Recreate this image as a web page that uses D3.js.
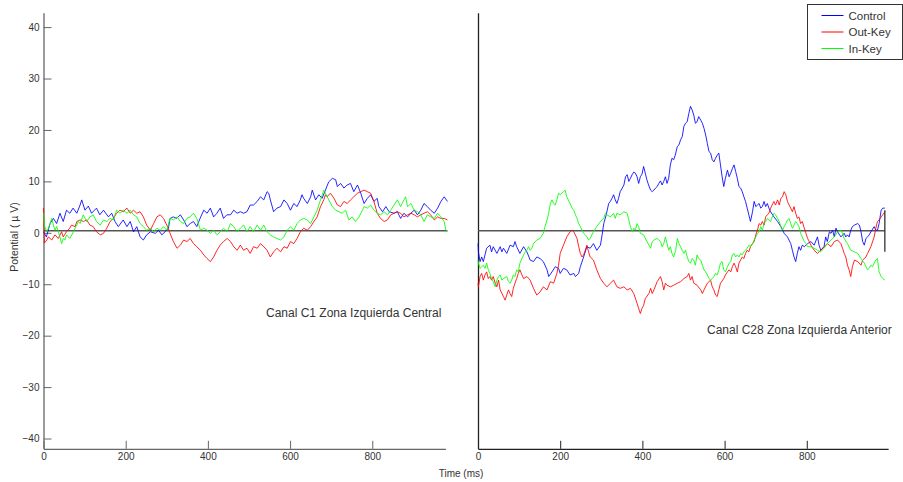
<!DOCTYPE html>
<html>
<head>
<meta charset="utf-8">
<script src="https://cdn.jsdelivr.net/npm/d3@7"></script>
<style>
body { margin: 0; background: #fff; }
text { font-family: "Liberation Sans", Arial, sans-serif; fill: #333; }
</style>
</head>
<body>
<script>
(function(){

//series names and colors (legend order)
var seriesNames = ["Control", "Out-Key", "In-Key"];
var seriesColors = ["#0000ff", "#ff0000", "#00ff00"];

//tick labels
var timeTicks = [0, 200, 400, 600, 800];
var potentialTicks = [-40, -30, -20, -10, 0, 10, 20, 30, 40];
var baseline = 0.4; //horizontal reference line (uV)

//panel captions
var captions = ["Canal C1 Zona Izquierda Central", "Canal C28 Zona Izquierda Anterior"];

//channel C1, [ms, uV]
var c1Control = [[0,0.2],[7,-0.8],[16,1.8],[24,2.8],[32,1.8],[40,3.8],[48,2.2],[56,4.4],[64,3.8],[72,4.8],[81,3.8],[89,5.4],[93,6.4],[101,4.4],[109,5.2],[117,3.8],[129,4.8],[137,3.5],[146,4.4],[158,3.1],[166,3.8],[174,2.2],[182,1.2],[194,2.5],[203,1.2],[211,2.2],[219,0.2],[227,1.2],[235,-0.8],[243,-1.4],[251,-0.4],[260,0.2],[272,-0.1],[280,0.5],[288,-0.4],[296,0.2],[304,0.9],[308,2.8],[316,3.1],[324,2.8],[333,3.5],[341,2.5],[349,1.2],[357,1.8],[365,2.2],[373,1.2],[381,2.8],[390,4.4],[398,3.8],[406,4.8],[414,3.1],[422,3.8],[430,4.8],[438,2.8],[446,3.5],[455,3.5],[463,4.4],[471,3.8],[479,4.1],[487,3.8],[495,4.1],[503,5.4],[511,5.4],[520,6.1],[528,7.0],[536,6.4],[544,8.0],[548,7.7],[552,6.4],[560,4.1],[568,4.8],[577,5.1],[585,6.4],[593,5.7],[601,4.4],[609,5.7],[617,5.1],[625,6.4],[629,7.4],[633,6.7],[642,5.7],[650,7.0],[654,8.3],[662,6.4],[670,7.4],[678,6.7],[686,8.3],[694,9.9],[703,10.6],[711,10.3],[715,9.0],[723,9.6],[731,8.7],[739,9.3],[747,9.6],[755,8.0],[764,9.3],[772,7.7],[780,5.7],[788,6.7],[796,7.4],[804,6.1],[812,6.7],[816,5.1],[825,4.1],[833,5.1],[841,4.1],[853,3.8],[861,4.1],[869,2.8],[877,3.8],[886,3.1],[894,3.8],[902,4.4],[910,3.5],[918,4.4],[926,5.7],[934,5.1],[942,4.4],[951,3.8],[959,4.8],[967,6.1],[975,7.0],[983,6.1]];
var c1OutKey = [[0,4.8],[2,-2.0],[8,-1.4],[12,-0.8],[20,-1.4],[28,-0.4],[36,-1.1],[44,0.2],[48,-0.8],[56,0.2],[64,0.9],[68,1.5],[77,1.2],[81,2.2],[89,2.5],[97,2.2],[105,2.5],[113,1.5],[121,1.2],[129,0.2],[138,-0.4],[146,-0.1],[154,0.9],[162,2.2],[170,2.8],[178,3.8],[186,4.4],[194,4.1],[203,4.8],[211,3.8],[219,4.4],[227,3.8],[235,4.1],[243,3.1],[251,1.5],[260,0.5],[268,1.8],[276,3.1],[284,3.5],[292,2.8],[300,1.5],[308,-0.1],[316,-1.7],[325,-3.0],[333,-2.4],[341,-1.4],[349,-1.7],[357,-1.1],[365,-2.1],[373,-2.7],[382,-3.4],[390,-4.3],[398,-5.0],[406,-5.6],[414,-4.7],[422,-3.4],[430,-2.4],[438,-1.7],[447,-1.1],[455,-1.7],[463,-2.7],[471,-3.4],[479,-2.4],[487,-3.4],[495,-3.0],[503,-4.0],[511,-2.7],[520,-3.0],[528,-2.1],[536,-2.7],[544,-3.4],[552,-4.7],[560,-3.7],[568,-3.0],[577,-3.7],[585,-2.7],[593,-3.0],[601,-1.7],[609,-2.1],[617,-1.1],[625,0.2],[633,0.9],[642,0.5],[650,1.2],[658,2.2],[666,3.1],[674,5.1],[682,6.4],[686,7.4],[690,7.0],[698,7.7],[707,6.7],[715,5.4],[723,5.1],[731,6.1],[739,5.7],[747,6.4],[755,7.0],[764,7.7],[772,8.0],[780,8.3],[788,8.0],[796,7.7],[804,6.1],[812,3.8],[820,2.8],[829,2.2],[837,2.5],[845,3.5],[853,3.8],[861,4.1],[869,3.8],[877,3.1],[886,3.5],[894,3.8],[902,3.5],[910,3.1],[918,3.5],[926,3.8],[934,4.1],[942,3.5],[951,2.5],[959,3.1],[967,2.8],[975,2.8],[983,2.5]];
var c1InKey = [[0,3.8],[3,1.2],[8,0.2],[12,0.9],[16,1.8],[20,2.8],[24,1.5],[28,0.5],[32,1.2],[36,0.2],[40,-0.8],[44,-2.1],[48,-1.1],[52,-1.4],[56,-0.4],[64,-1.1],[73,0.2],[77,0.9],[85,2.2],[89,1.8],[97,3.5],[105,2.2],[113,3.1],[121,3.5],[129,2.2],[138,1.5],[146,2.5],[154,2.2],[162,2.8],[170,2.5],[178,4.4],[186,3.8],[194,4.4],[203,3.8],[211,4.4],[219,3.5],[227,3.1],[235,1.8],[243,1.2],[251,0.5],[260,0.9],[268,0.2],[276,0.9],[284,0.5],[292,1.2],[300,0.5],[308,2.8],[316,2.5],[325,3.1],[333,2.2],[341,1.8],[349,2.8],[357,3.1],[365,3.8],[373,2.8],[382,0.5],[390,0.9],[398,0.5],[406,-0.1],[414,0.5],[422,-0.4],[430,0.2],[438,0.9],[447,0.2],[455,1.8],[463,1.2],[471,0.2],[479,0.9],[487,1.5],[495,0.2],[503,1.2],[511,0.2],[520,1.5],[528,0.5],[536,1.5],[544,0.2],[552,-0.4],[560,-0.8],[568,-1.1],[577,-1.4],[585,-0.8],[593,0.5],[601,1.2],[609,0.5],[617,1.8],[625,2.5],[633,2.8],[642,2.5],[650,1.8],[658,3.1],[666,4.4],[674,6.4],[682,8.3],[686,7.7],[694,6.4],[703,5.1],[711,4.4],[719,4.1],[727,3.8],[735,4.4],[743,2.5],[751,3.1],[759,2.2],[768,3.1],[776,4.4],[780,5.1],[788,4.8],[796,5.4],[804,4.4],[812,3.8],[820,3.5],[829,4.1],[837,3.5],[845,4.4],[853,5.4],[861,6.4],[869,5.1],[877,6.4],[881,7.0],[886,5.1],[894,5.7],[902,4.4],[910,4.1],[918,3.5],[926,2.2],[934,3.5],[942,3.1],[951,2.8],[959,3.8],[967,3.1],[975,2.2],[979,0.5],[983,0.2]];

//channel C28, [ms, uV]
var c28Control = [[0,-2.1],[1,-3.7],[5,-5.6],[9,-4.7],[13,-5.6],[17,-4.3],[21,-3.0],[29,-2.4],[33,-3.7],[37,-2.7],[46,-4.0],[54,-2.7],[58,-3.7],[62,-3.0],[70,-4.0],[78,-2.4],[86,-2.7],[90,-1.7],[94,-2.7],[102,-4.0],[111,-2.7],[119,-3.7],[127,-5.3],[135,-5.6],[143,-4.7],[151,-5.0],[159,-5.6],[168,-7.2],[172,-8.5],[180,-7.6],[188,-6.6],[196,-6.9],[200,-7.9],[208,-6.9],[216,-7.2],[224,-8.2],[233,-7.9],[237,-8.5],[245,-7.9],[249,-6.6],[257,-4.7],[265,-2.7],[273,-3.0],[281,-2.1],[289,-3.4],[298,-2.4],[302,-0.4],[306,1.8],[312,3.5],[318,5.7],[322,6.1],[326,6.7],[330,7.4],[334,6.4],[338,5.7],[342,6.7],[346,8.0],[351,8.7],[355,9.3],[359,10.9],[363,11.3],[367,10.0],[371,10.6],[375,11.3],[379,11.8],[383,11.6],[387,10.9],[391,9.6],[395,10.9],[399,11.4],[403,12.9],[407,11.6],[411,10.3],[415,9.3],[420,8.3],[424,8.0],[428,8.3],[432,8.7],[436,9.0],[440,9.6],[444,10.1],[448,9.3],[452,10.0],[456,10.9],[460,9.6],[464,10.6],[468,13.2],[472,14.5],[476,14.2],[480,15.1],[485,16.8],[489,17.1],[493,18.1],[497,18.7],[501,20.7],[505,21.3],[509,21.6],[513,23.2],[517,24.6],[521,23.9],[525,22.9],[529,21.3],[533,21.6],[537,22.6],[542,21.9],[546,21.3],[550,20.3],[554,19.0],[558,17.4],[562,15.8],[566,15.5],[570,14.2],[574,13.8],[578,14.5],[582,15.1],[586,15.5],[590,13.2],[594,10.9],[598,9.0],[602,10.6],[607,12.2],[611,10.9],[615,11.6],[619,12.5],[623,13.2],[627,11.9],[631,10.6],[635,9.0],[639,8.7],[643,8.0],[647,7.0],[651,6.1],[655,4.8],[659,3.5],[663,2.2],[668,4.1],[672,6.1],[676,5.1],[680,5.4],[684,5.7],[688,4.8],[692,5.1],[696,6.1],[700,5.1],[704,5.7],[708,4.8],[712,4.1],[720,3.1],[729,2.2],[737,1.2],[745,-0.1],[753,-0.8],[761,-2.1],[765,-3.4],[769,-4.7],[773,-5.6],[777,-4.0],[781,-2.7],[785,-3.4],[789,-2.4],[794,-2.7],[802,-2.1],[810,-1.7],[818,-2.4],[826,-0.8],[830,-2.4],[834,-3.4],[842,-2.7],[846,-0.8],[850,-1.7],[855,0.2],[859,-0.1],[863,0.5],[867,-0.8],[871,0.9],[875,0.2],[883,-0.8],[891,-0.1],[895,-0.8],[899,-0.4],[903,-0.8],[907,0.5],[911,1.2],[916,1.5],[924,1.8],[928,1.5],[932,0.2],[936,-1.7],[940,-2.4],[944,-1.1],[948,-0.8],[952,-0.4],[956,0.2],[964,1.2],[968,0.5],[972,0.5],[976,1.8],[981,4.4],[985,4.8],[990,4.8]];
var c28OutKey = [[0,-9.8],[1,-10.5],[5,-8.5],[9,-7.9],[13,-9.2],[17,-8.2],[21,-7.6],[25,-8.9],[29,-8.5],[33,-9.2],[37,-8.5],[42,-9.8],[46,-10.5],[50,-9.2],[54,-11.1],[62,-12.4],[66,-13.1],[70,-12.1],[74,-11.1],[78,-11.8],[82,-12.4],[86,-10.8],[90,-9.8],[94,-8.9],[98,-7.9],[102,-7.2],[107,-8.2],[111,-8.9],[119,-8.5],[127,-9.2],[135,-10.8],[143,-12.1],[151,-11.5],[159,-10.5],[168,-11.1],[176,-9.5],[184,-9.8],[192,-7.9],[196,-6.3],[200,-4.0],[208,-2.4],[216,-0.8],[224,0.2],[229,0.5],[233,0.2],[241,-1.1],[245,-2.7],[249,-4.0],[253,-4.7],[257,-4.3],[261,-3.4],[265,-2.4],[269,-3.7],[273,-4.7],[281,-5.3],[289,-7.2],[298,-8.9],[306,-9.8],[314,-10.5],[322,-9.8],[330,-9.2],[338,-10.5],[346,-10.8],[355,-10.5],[363,-11.1],[371,-10.8],[379,-11.8],[387,-13.7],[395,-15.7],[399,-14.7],[403,-14.1],[407,-12.8],[416,-11.8],[420,-10.8],[424,-11.8],[428,-11.1],[436,-9.5],[444,-8.5],[448,-9.5],[452,-11.1],[456,-9.8],[460,-10.2],[468,-10.5],[476,-10.2],[485,-9.8],[493,-9.5],[501,-8.9],[509,-8.5],[513,-7.9],[517,-9.2],[521,-8.5],[525,-9.8],[533,-10.2],[542,-11.1],[546,-11.8],[550,-11.1],[558,-9.8],[566,-9.2],[570,-10.5],[574,-11.1],[578,-12.1],[582,-12.4],[586,-11.1],[590,-9.8],[598,-8.9],[602,-8.2],[607,-7.6],[611,-7.2],[615,-7.6],[619,-6.6],[623,-5.9],[627,-6.6],[631,-7.6],[635,-5.9],[639,-5.3],[643,-4.7],[647,-5.0],[651,-4.0],[655,-3.4],[659,-3.7],[663,-2.7],[668,-2.1],[672,-1.7],[676,-0.4],[680,0.5],[684,1.8],[688,1.5],[692,2.2],[696,1.5],[700,3.1],[704,3.5],[708,3.8],[712,4.8],[720,6.1],[724,5.4],[729,6.4],[733,5.4],[737,6.7],[741,7.0],[745,8.0],[749,7.4],[753,6.1],[757,5.4],[761,4.8],[765,4.1],[769,5.1],[773,3.8],[777,2.8],[781,3.1],[785,1.8],[789,2.2],[794,0.9],[798,-0.1],[802,-1.1],[806,-1.7],[810,-2.4],[818,-3.4],[826,-4.0],[834,-3.4],[842,-2.7],[850,-2.1],[859,-2.7],[867,-1.7],[875,-1.4],[883,-2.1],[887,-3.0],[891,-4.0],[895,-4.7],[899,-6.3],[903,-7.2],[907,-8.5],[911,-6.6],[916,-5.3],[924,-5.6],[932,-6.3],[936,-5.3],[944,-4.7],[948,-4.0],[956,-2.7],[964,-0.8],[968,0.9],[972,2.2],[976,2.5],[981,3.1],[985,3.5],[990,4.1]];
var c28InKey = [[0,-5.3],[1,-5.9],[5,-6.9],[9,-6.6],[13,-6.3],[17,-6.9],[21,-5.9],[25,-7.2],[29,-7.9],[33,-8.9],[37,-9.5],[42,-10.5],[46,-9.2],[50,-8.5],[54,-8.2],[58,-9.2],[62,-8.9],[70,-8.5],[74,-9.5],[78,-9.8],[82,-9.2],[86,-8.2],[90,-8.5],[94,-7.2],[98,-7.6],[102,-5.9],[107,-5.0],[111,-4.3],[115,-3.7],[119,-3.4],[123,-2.7],[127,-3.4],[131,-3.0],[135,-2.1],[143,-1.4],[151,-1.1],[159,-0.1],[163,1.2],[168,2.5],[172,3.8],[176,5.7],[180,6.4],[184,5.7],[188,5.4],[192,6.4],[196,7.7],[200,7.4],[204,7.7],[208,8.0],[212,8.3],[216,7.0],[224,5.7],[229,4.8],[233,4.4],[237,3.5],[241,2.8],[245,1.8],[249,1.2],[253,0.5],[257,-0.1],[261,-0.4],[265,-0.8],[269,-1.4],[273,-1.1],[277,-0.4],[281,0.2],[289,1.2],[298,2.2],[306,2.8],[310,3.8],[314,3.5],[322,3.1],[330,3.8],[334,2.8],[338,3.8],[346,3.5],[355,4.1],[363,3.8],[367,2.5],[371,1.2],[375,0.2],[379,0.9],[383,0.5],[387,1.8],[391,1.2],[395,-0.1],[403,-0.4],[411,-1.7],[416,-2.4],[420,-3.0],[424,-1.7],[428,-1.4],[436,-1.1],[444,-1.7],[448,-2.7],[452,-2.1],[456,-0.8],[460,-2.1],[464,-3.4],[468,-2.7],[472,-4.0],[476,-4.7],[481,-3.4],[485,-1.1],[489,-2.1],[493,-2.7],[497,-3.4],[501,-4.0],[505,-3.4],[509,-4.7],[513,-5.6],[517,-5.9],[521,-5.0],[525,-5.3],[529,-6.3],[533,-4.3],[537,-5.0],[542,-5.3],[546,-6.3],[550,-7.2],[554,-7.6],[558,-8.2],[562,-8.9],[566,-9.2],[570,-8.9],[574,-8.5],[578,-7.9],[582,-8.2],[586,-7.2],[590,-5.9],[594,-5.6],[598,-7.2],[602,-7.6],[607,-6.6],[611,-5.9],[615,-5.6],[619,-4.3],[623,-4.0],[627,-4.7],[631,-4.3],[635,-4.7],[639,-4.0],[643,-4.3],[647,-3.7],[651,-3.4],[655,-3.0],[659,-2.4],[663,-2.7],[668,-2.1],[672,-1.4],[676,-0.8],[680,-0.1],[684,0.2],[688,1.2],[692,0.5],[696,1.8],[700,2.2],[704,2.8],[712,2.2],[716,3.1],[720,3.8],[724,3.5],[729,2.8],[733,2.2],[737,1.2],[741,0.5],[745,1.2],[749,1.8],[753,2.5],[757,2.8],[761,1.8],[765,0.9],[769,1.5],[773,2.2],[777,1.8],[781,1.2],[785,-0.1],[789,-0.8],[794,-1.7],[798,-2.1],[802,-2.7],[810,-2.7],[818,-3.0],[826,-3.4],[834,-3.7],[842,-3.0],[850,-2.1],[859,-1.4],[867,-0.8],[875,0.2],[883,0.5],[887,-0.1],[891,-1.1],[899,-2.1],[907,-3.4],[916,-3.7],[924,-4.0],[932,-5.0],[940,-5.9],[944,-6.6],[948,-7.2],[952,-6.9],[956,-6.3],[960,-6.6],[964,-5.9],[968,-5.3],[972,-5.0],[976,-7.6],[981,-8.5],[985,-8.9],[990,-9.2]];

//short dark mark at the end of the C28 traces, [ms, uV from, uV to]
var c28EndMark = [990, 4.4, -3.7];

//begin script when window loads
window.onload = setChart();

function setChart(){

    //frame dimensions
    var width = 903,
        height = 482;

    var svg = d3.select("body")
        .append("svg")
        .attr("width", width)
        .attr("height", height);

    //shared vertical scale
    var y = d3.scaleLinear()
        .domain([-42, 42.8])
        .range([448.8, 12.7]);

    //one horizontal scale per panel
    var xLeft = d3.scaleLinear()
        .domain([0, 985])
        .range([43.5, 448.3]);
    var xRight = d3.scaleLinear()
        .domain([0, 985])
        .range([478, 882.8]);

    //left panel: axes with ticks and labels
    drawPanel(svg, xLeft, y, [c1Control, c1OutKey, c1InKey], 978, true);
    //right panel: bare vertical axis
    drawPanel(svg, xRight, y, [c28Control, c28OutKey, c28InKey], 998, false);

    //end mark on right panel
    svg.append("line")
        .attr("x1", xRight(c28EndMark[0]))
        .attr("x2", xRight(c28EndMark[0]))
        .attr("y1", y(c28EndMark[1]))
        .attr("y2", y(c28EndMark[2]))
        .attr("stroke", "#222")
        .attr("stroke-width", 1.2);

    //captions
    svg.append("text")
        .attr("x", 266)
        .attr("y", 317)
        .style("font-size", "12px")
        .text(captions[0]);
    svg.append("text")
        .attr("x", 707)
        .attr("y", 334)
        .style("font-size", "12px")
        .text(captions[1]);

    //axis titles
    svg.append("text")
        .attr("transform", "translate(18,237) rotate(-90)")
        .attr("text-anchor", "middle")
        .style("font-size", "10.5px")
        .text("Potential ( \u00b5 V)");
    svg.append("text")
        .attr("x", 461)
        .attr("y", 477)
        .attr("text-anchor", "middle")
        .style("font-size", "10px")
        .text("Time (ms)");

    setLegend(svg);
};

function drawPanel(svg, x, y, series, axisEndMs, withTicks){

    //axis scale, same mapping as the data scale but to the axis end
    var xAxisScale = d3.scaleLinear()
        .domain([0, axisEndMs])
        .range([x(0), x(axisEndMs)]);

    var xAxis = d3.axisBottom(xAxisScale)
        .tickValues(timeTicks)
        .tickSize(-8)
        .tickSizeOuter(0)
        .tickPadding(4);

    var gx = svg.append("g")
        .attr("transform", "translate(0," + y.range()[0] + ")")
        .call(xAxis);
    styleAxis(gx, withTicks ? "#666" : "#222");

    var yAxis = d3.axisLeft(y)
        .tickValues(withTicks ? potentialTicks : [])
        .tickSize(-8)
        .tickSizeOuter(0)
        .tickPadding(4)
        .tickFormat(d3.format("d"));

    var gy = svg.append("g")
        .attr("transform", "translate(" + x(0) + ",0)")
        .call(yAxis);
    styleAxis(gy, withTicks ? "#666" : "#222");

    //reference line
    var lastMs = d3.max(series[0], function(d){ return d[0]; });
    svg.append("line")
        .attr("x1", x(0))
        .attr("x2", x(lastMs))
        .attr("y1", y(baseline))
        .attr("y2", y(baseline))
        .attr("stroke", "#555")
        .attr("stroke-width", 1.3);

    //traces
    var line = d3.line()
        .x(function(d){ return x(d[0]); })
        .y(function(d){ return y(d[1]); });

    series.forEach(function(data, i){
        svg.append("path")
            .datum(data)
            .attr("fill", "none")
            .attr("stroke", seriesColors[i])
            .attr("stroke-width", 1)
            .attr("stroke-opacity", 0.85)
            .attr("stroke-linejoin", "round")
            .attr("d", line);
    });
};

function styleAxis(g, color){
    g.select(".domain").attr("stroke", color).attr("stroke-width", 1.3);
    g.selectAll(".tick line").attr("stroke", color);
    g.selectAll(".tick text")
        .style("font-family", "'Liberation Sans', Arial, sans-serif")
        .style("font-size", "10px")
        .attr("fill", "#333");
};

function setLegend(svg){
    var legend = svg.append("g")
        .attr("transform", "translate(807.5,4.5)");

    legend.append("rect")
        .attr("width", 95)
        .attr("height", 55)
        .attr("fill", "#fff")
        .attr("stroke", "#333");

    var rows = legend.selectAll(".row")
        .data(seriesNames)
        .enter()
        .append("g")
        .attr("class", "row")
        .attr("transform", function(d, i){ return "translate(0," + (11 + i * 16.5) + ")"; });

    rows.append("line")
        .attr("x1", 14)
        .attr("x2", 36)
        .attr("stroke", function(d, i){ return seriesColors[i]; });

    rows.append("text")
        .attr("x", 41)
        .attr("y", 4)
        .style("font-size", "11.5px")
        .text(function(d){ return d; });
};

})();
</script>
</body>
</html>
